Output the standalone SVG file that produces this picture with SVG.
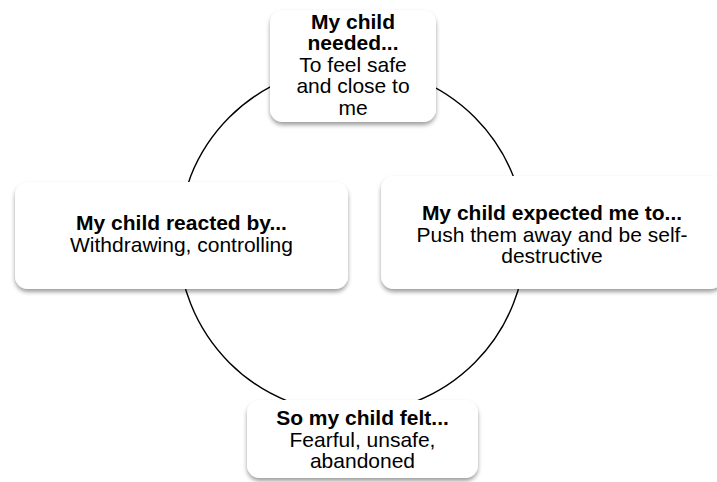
<svg xmlns="http://www.w3.org/2000/svg" width="717" height="482" viewBox="0 0 717 482">
  <defs>
    <filter id="shadow" x="-10%" y="-20%" width="120%" height="150%">
      <feDropShadow dx="0" dy="3" stdDeviation="2" flood-color="#000" flood-opacity="0.38"/>
    </filter>
    <style>
      .box { fill: #ffffff; filter: url(#shadow); }
      .t { font-family: "Liberation Sans", Arial, sans-serif; font-size: 21px; fill: #000; text-anchor: middle; }
      .b { font-weight: bold; }
      .conn { fill: none; stroke: #000; stroke-width: 1.4; }
    </style>
  </defs>
  <rect width="717" height="482" fill="#ffffff"/>
  <g id="connectors">
    <circle class="conn" cx="352" cy="240" r="173.5"/>
  </g>
  <g id="node-needed">
    <rect class="box" x="270" y="10" width="166" height="112" rx="13"/>
    <text class="t b" x="353" y="28.5">My child</text>
    <text class="t b" x="353" y="50">needed...</text>
    <text class="t" x="353" y="71.5">To feel safe</text>
    <text class="t" x="353" y="93">and close to</text>
    <text class="t" x="353" y="114.5">me</text>
  </g>
  <g id="node-expected">
    <rect class="box" x="381" y="176" width="342" height="113" rx="13"/>
    <text class="t b" x="552" y="220">My child expected me to...</text>
    <text class="t" x="552" y="241.5">Push them away and be self-</text>
    <text class="t" x="552" y="263">destructive</text>
  </g>
  <g id="node-felt">
    <rect class="box" x="247" y="400" width="231" height="78" rx="13"/>
    <text class="t b" x="362.5" y="425">So my child felt...</text>
    <text class="t" x="362.5" y="446.5">Fearful, unsafe,</text>
    <text class="t" x="362.5" y="468">abandoned</text>
  </g>
  <g id="node-reacted">
    <rect class="box" x="15" y="182" width="333" height="107" rx="13"/>
    <text class="t b" x="181.5" y="229.5">My child reacted by...</text>
    <text class="t" x="181.5" y="251.5">Withdrawing, controlling</text>
  </g>
</svg>
